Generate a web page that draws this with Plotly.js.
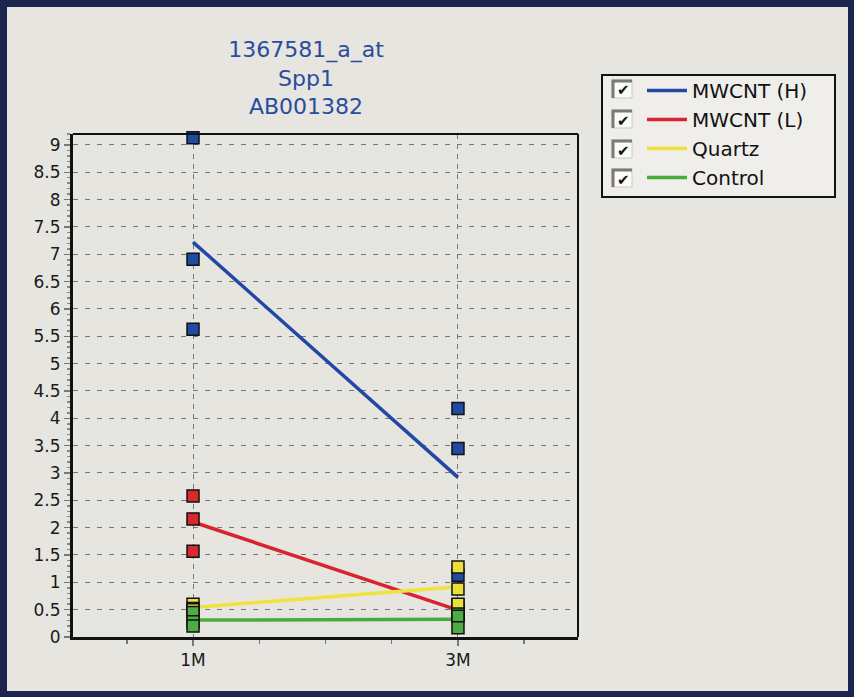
<!DOCTYPE html>
<html>
<head>
<meta charset="utf-8">
<script src="https://cdn.plot.ly/plotly-3.0.1.min.js"></script>
<style>
  html, body { margin: 0; padding: 0; background: #1b2550; width: 854px; height: 697px; overflow: hidden; }
  #chart { position: absolute; left: 7px; top: 7px; width: 841px; height: 684px; }
</style>
</head>
<body>
<div id="chart"></div>
<script>
// Sampling periods on the x axis
const periods = ['1M', '3M'];
const seriesNames = ['MWCNT (H)', 'MWCNT (L)', 'Quartz', 'Control'];

// Expression values per group, three animals at each period
const mwcntH_1M = [9.13, 6.91, 5.63];
const mwcntH_3M = [4.18, 3.45, 1.13];
const mwcntL_1M = [2.58, 2.16, 1.57];
const mwcntL_3M = [0.58, 0.47, 0.42];
const quartz_1M = [0.60, 0.52, 0.50];
const quartz_3M = [1.28, 0.88, 0.60];
const control_1M = [0.45, 0.28, 0.20];
const control_3M = [0.42, 0.38, 0.17];

const groups = [
  { name: seriesNames[0], a: mwcntH_1M, b: mwcntH_3M, line: '#2247a6', fill: '#1f4ba3' },
  { name: seriesNames[1], a: mwcntL_1M, b: mwcntL_3M, line: '#d8242c', fill: '#d62a2c' },
  { name: seriesNames[2], a: quartz_1M, b: quartz_3M, line: '#f0e23c', fill: '#e9df3a' },
  { name: seriesNames[3], a: control_1M, b: control_3M, line: '#45ad3c', fill: '#4eac45' }
];

const mean = arr => arr.reduce((s, v) => s + v, 0) / arr.length;

const traces = [];
// mean lines first so the sample squares sit on top
groups.forEach(g => {
  traces.push({
    type: 'scatter', mode: 'lines', name: g.name,
    x: [0, 1], y: [mean(g.a), mean(g.b)],
    line: { color: g.line, width: 3.5 },
    hoverinfo: 'skip'
  });
});
groups.forEach(g => {
  traces.push({
    type: 'scatter', mode: 'markers', name: g.name, showlegend: false,
    x: g.a.map(() => 0).concat(g.b.map(() => 1)),
    y: g.a.concat(g.b),
    marker: { symbol: 'square', size: 12, color: g.fill, line: { color: '#111', width: 1.5 } },
    cliponaxis: false
  });
});

// plot-area geometry helpers (pixel -> paper) for the legend frame and checkboxes
const L = 66, R = 571, T = 127, B = 630;
const px = x => (x - L) / (R - L);
const py = y => (B - y) / (B - T);

const shapes = [
  // top and right frame edges of the plot area
  { type: 'line', xref: 'paper', yref: 'paper', x0: 0, x1: 1, y0: 1, y1: 1, line: { color: '#111', width: 2 } },
  { type: 'line', xref: 'paper', yref: 'paper', x0: 1, x1: 1, y0: 0, y1: 1, line: { color: '#111', width: 2 } },
  // legend box
  { type: 'rect', xref: 'paper', yref: 'paper', x0: px(595), x1: px(828), y0: py(190), y1: py(68),
    fillcolor: '#efeeea', line: { color: '#111', width: 2 }, layer: 'below' }
];
const annotations = [];
const rowsY = [82, 112, 142, 171];
rowsY.forEach(cy => {
  const x0 = 605, x1 = 625, y0 = cy - 9, y1 = cy + 9;
  shapes.push({ type: 'rect', xref: 'paper', yref: 'paper', x0: px(x0), x1: px(x1), y0: py(y1), y1: py(y0),
    fillcolor: '#fbfbf8', line: { color: '#c8c8c4', width: 1 } });
  shapes.push({ type: 'path', xref: 'paper', yref: 'paper',
    path: `M ${px(x0 + 1)} ${py(y1)} L ${px(x0 + 1)} ${py(y0 + 1)} L ${px(x1)} ${py(y0 + 1)}`,
    line: { color: '#7a7a7a', width: 3 } });
  annotations.push({ xref: 'paper', yref: 'paper', x: px((x0 + x1) / 2 + 1.5), y: py(cy + 1.5),
    xanchor: 'center', yanchor: 'middle',
    text: '✔', showarrow: false, font: { family: 'DejaVu Sans', size: 15, color: '#111' } });
});

const layout = {
  width: 841, height: 684,
  margin: { l: L, r: 841 - R, t: T, b: 684 - B, pad: 0 },
  paper_bgcolor: '#e6e5df',
  plot_bgcolor: '#e6e5df',
  font: { family: 'DejaVu Sans', color: '#1a1a1a' },
  title: {
    text: '1367581_a_at<br>Spp1<br>AB001382',
    font: { family: 'DejaVu Sans', size: 22, color: '#2a4c9e' },
    xref: 'container', yref: 'container', x: 299 / 841, xanchor: 'center',
    y: 1 - 50 / 684, yanchor: 'top'
  },
  xaxis: {
    range: [-0.453, 1.453],
    tickvals: [0, 1], ticktext: periods,
    ticks: 'outside', ticklen: 6, tickcolor: '#777', tickwidth: 1.5,
    tickfont: { family: 'DejaVu Sans', size: 17, color: '#1a1a1a' },
    showline: true, linecolor: '#111', linewidth: 3,
    showgrid: true, gridcolor: '#777', gridwidth: 1, griddash: '5px,5px',
    zeroline: false,
    minor: { dtick: 0.25, tick0: 0, ticks: 'outside', ticklen: 4, tickcolor: '#777', showgrid: false }
  },
  yaxis: {
    range: [0, 9.2],
    dtick: 0.5, tick0: 0,
    ticks: 'outside', ticklen: 6, tickcolor: '#777', tickwidth: 1.5,
    tickfont: { family: 'DejaVu Sans', size: 17, color: '#1a1a1a' },
    showline: true, linecolor: '#111', linewidth: 3,
    showgrid: true, gridcolor: '#777', gridwidth: 1, griddash: '5px,7px',
    zeroline: false,
    minor: { dtick: 0.1, ticks: 'outside', ticklen: 3, tickcolor: '#888', showgrid: false }
  },
  showlegend: true,
  legend: {
    x: px(635), xanchor: 'left', y: py(64), yanchor: 'top',
    bgcolor: 'rgba(0,0,0,0)', borderwidth: 0,
    font: { family: 'DejaVu Sans', size: 20, color: '#111' },
    itemwidth: 40
  },
  shapes: shapes,
  annotations: annotations
};

Plotly.newPlot('chart', traces, layout, { displayModeBar: false, staticPlot: true });
</script>
</body>
</html>
